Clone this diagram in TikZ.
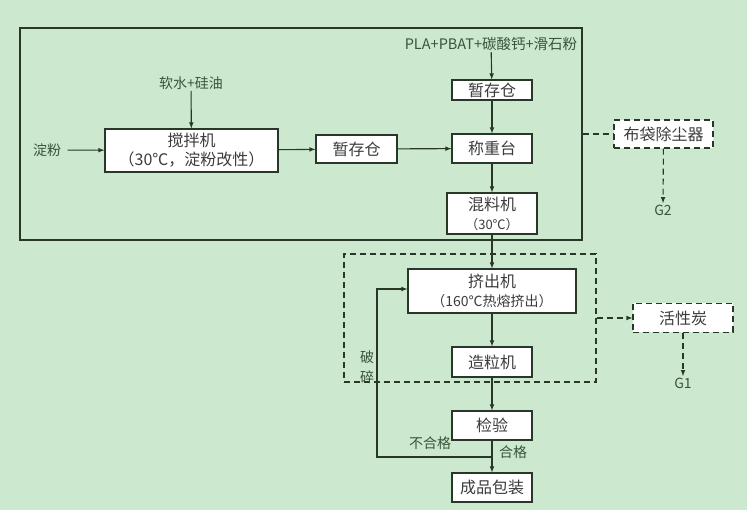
\documentclass[tikz,border=0pt]{standalone}
\usepackage{fontspec}
\setmainfont{Noto Sans CJK SC}
\usepackage{tikz}
\usetikzlibrary{arrows}

\definecolor{bggreen}{RGB}{204,232,207}
\definecolor{linegray}{RGB}{40,55,40}
\definecolor{txtgreen}{RGB}{58,84,58}
\definecolor{boxtxt}{RGB}{60,60,60}

\begin{document}
\begin{tikzpicture}[x=1pt, y=-1pt, >=latex, line width=1.1pt,
  proc/.style={draw=linegray, fill=white, text=boxtxt, inner sep=0pt, align=center, font=\fontsize{16}{19}\selectfont},
  dproc/.style={proc, dash pattern=on 6pt off 4pt},
  lbl/.style={text=txtgreen, inner sep=1pt, font=\fontsize{14}{20}\selectfont},
  zone/.style={draw=linegray, inner sep=0pt},
  flow/.style={->, draw=linegray},
  dflow/.style={flow, dash pattern=on 6pt off 4pt}]

\fill[bggreen] (0,0) rectangle (747,510);
\useasboundingbox (0,0) rectangle (747,510);

\node[zone, minimum width=562, minimum height=212] (mixzone) at (301,134) {};
\node[zone, dash pattern=on 6pt off 4pt, minimum width=252, minimum height=128] (extzone) at (470,318) {};

\node[lbl] (starch) at (47,150) {淀粉};
\node[lbl] (water) at (191,83) {软水+硅油};
\node[proc, minimum width=173, minimum height=43] (stirrer) at (191.5,150.5) {搅拌机\\（30℃，淀粉改性）};
\node[proc, minimum width=81, minimum height=28] (bin1) at (356.5,149) {暂存仓};

\node[lbl, font=\fontsize{14.5}{18}\selectfont] (raw) at (491,44) {PLA+PBAT+碳酸钙+滑石粉};
\node[proc, minimum width=80, minimum height=20] (bin2) at (492,90) {暂存仓};
\node[proc, minimum width=80, minimum height=29] (scale) at (492,148.5) {称重台};
\node[proc, minimum width=90, minimum height=41] (mixer) at (492,213.5) {混料机\\{\fontsize{13}{15}\selectfont（30℃）}};

\node[dproc, minimum width=99, minimum height=28] (dust) at (663.5,134) {布袋除尘器};
\node[lbl] (g2) at (663,210) {G2};

\node[proc, minimum width=168, minimum height=44] (extruder) at (492,291) {挤出机\\{\fontsize{14}{16}\selectfont（160℃热熔挤出）}};
\node[proc, minimum width=80, minimum height=30] (pellet) at (492,362) {造粒机};
\node[dproc, minimum width=100, minimum height=29] (carbon) at (683,318) {活性炭};
\node[lbl] (g1) at (683,383) {G1};
\node[lbl, align=center] (crush) at (367,367) {破\\碎};

\node[proc, minimum width=80, minimum height=29] (check) at (492,425.5) {检验};
\node[proc, minimum width=80, minimum height=29] (pack) at (492,487.5) {成品包装};
\node[lbl] (reject) at (430,443) {不合格};
\node[lbl] (pass) at (513,452) {合格};

\coordinate (split) at (492,457);
\coordinate (back) at (377,289);

\path[]
(starch) edge[flow, shorten <=5pt] (stirrer)
(water) edge[flow] (stirrer)
(stirrer) edge[flow] (bin1)
(bin1) edge[flow] (scale)
(raw) edge[flow] (bin2)
(bin2) edge[flow] (scale)
(scale) edge[flow] (mixer)
(mixer) edge[flow] (extruder)
(extruder) edge[flow] (pellet)
(pellet) edge[flow] (check)
(check) edge[flow] (pack)
(mixzone) edge[dflow, -] (dust)
(dust) edge[dflow] (g2)
(extzone) edge[dflow] (carbon)
(carbon) edge[dflow] (g1)
;
\draw[flow] (split) -| (back) -- (extruder.west |- back);
\end{tikzpicture}
\end{document}
